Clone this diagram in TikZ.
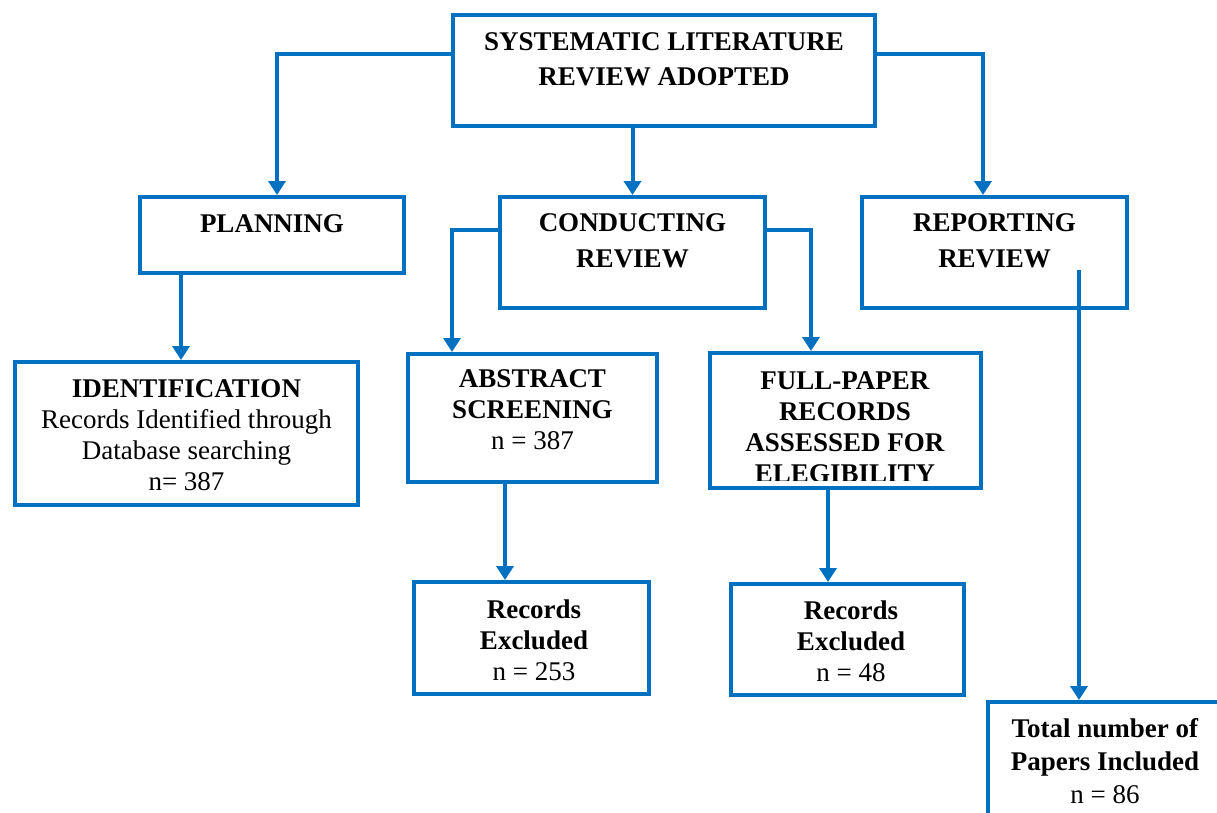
\documentclass[tikz,border=0pt]{standalone}
\usepackage{fontspec}
\setmainfont{Liberation Serif}
\usetikzlibrary{arrows.meta}
\definecolor{flowblue}{RGB}{0,112,192}
\tikzset{
  box/.style={draw=flowblue, line width=4pt, fill=white, inner sep=0pt, rectangle},
  conn/.style={draw=flowblue, line width=4pt, -{Triangle[width=17pt,length=14pt]}},
  txt/.style={align=center, inner sep=0pt, font=\fontsize{27}{31}\selectfont},
}
\begin{document}
\begin{tikzpicture}[x=1pt,y=-1pt]
\useasboundingbox (0,0) rectangle (1217,812);
% boxes
\node[box, minimum width=422pt, minimum height=111pt] (top) at (664,70.5) {};
\node[box, minimum width=264pt, minimum height=76pt] (plan) at (272,235) {};
\node[box, minimum width=265pt, minimum height=111pt] (cond) at (632.5,252.5) {};
\node[box, minimum width=265pt, minimum height=111pt] (rep) at (994.5,252.5) {};
\node[box, minimum width=343pt, minimum height=143pt] (ident) at (186.5,433.5) {};
\node[box, minimum width=249pt, minimum height=128pt] (abs) at (532.5,418) {};
\node[box, minimum width=271pt, minimum height=135pt] (full) at (845.5,420.5) {};
\node[box, minimum width=235pt, minimum height=112pt] (rec1) at (531.5,638) {};
\node[box, minimum width=233pt, minimum height=111pt] (rec2) at (847.5,639.5) {};
\node[box, minimum width=250pt, minimum height=136pt] (tot) at (1113,770) {};
% texts
\node[txt, font=\fontsize{27}{35}\selectfont] (ttop) at (664,59.5) {\textbf{SYSTEMATIC LITERATURE}\\\textbf{REVIEW ADOPTED}};
\node[txt] (tplan) at (272,223.5) {\textbf{PLANNING}};
\node[txt, font=\fontsize{27}{36}\selectfont] (tcond) at (632.5,240.5) {\textbf{CONDUCTING}\\\textbf{REVIEW}};
\node[txt, font=\fontsize{27}{36}\selectfont] (trep) at (994.5,240.5) {\textbf{REPORTING}\\\textbf{REVIEW}};
\node[txt] (tident) at (186.5,435.5) {\textbf{IDENTIFICATION}\\Records Identified through\\Database searching\\n= 387};
\node[txt] (tabs) at (532.5,410) {\textbf{ABSTRACT}\\\textbf{SCREENING}\\n = 387};
\begin{scope}
\clip (710,353) rectangle (981,480);
\node[txt] (tfull) at (845,427) {\textbf{FULL-PAPER}\\\textbf{RECORDS}\\\textbf{ASSESSED FOR}\\\textbf{ELEGIBILITY}};
\end{scope}
\node[txt] (trec1) at (534,640.5) {\textbf{Records}\\\textbf{Excluded}\\n = 253};
\node[txt] (trec2) at (851,641.5) {\textbf{Records}\\\textbf{Excluded}\\n = 48};
\node[txt, font=\fontsize{27}{33}\selectfont] (ttot) at (1105,761.5) {\textbf{Total number of}\\\textbf{Papers Included}\\n = 86};
% connectors
\draw[conn] ([yshift=17pt]top.west) -| ([xshift=5pt]plan.north);
\draw[conn] ([yshift=17pt]top.east) -| ([xshift=-11.5pt]rep.north);
\draw[conn] (top.south -| cond.north) -- (cond.north);
\draw[conn] ([yshift=22.5pt]cond.west) -| ([xshift=-80.5pt]abs.north);
\draw[conn] ([yshift=23pt]cond.east) -| ([xshift=-34.5pt]full.north);
\draw[conn] ([xshift=-91pt]plan.south) -- ([xshift=-91pt]plan.south |- ident.north);
\draw[conn] ([xshift=-27.5pt]abs.south) -- ([xshift=-27.5pt]abs.south |- rec1.north);
\draw[conn] ([xshift=-17.5pt]full.south) -- ([xshift=-17.5pt]full.south |- rec2.north);
\coordinate (rs) at (1079,270);
\draw[conn] (rs) -- (rs |- tot.north);
\end{tikzpicture}
\end{document}
